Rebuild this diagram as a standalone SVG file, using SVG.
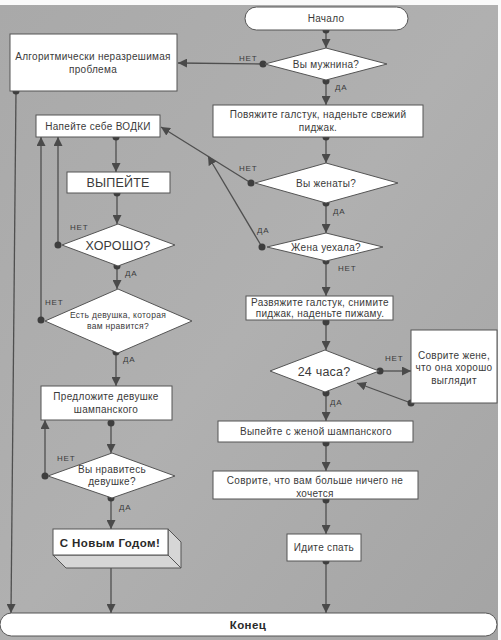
<svg xmlns="http://www.w3.org/2000/svg" width="501" height="640" viewBox="0 0 501 640">
<defs>
<linearGradient id="bg" x1="0" y1="0" x2="1" y2="1">
<stop offset="0" stop-color="#a9a9a9"/>
<stop offset="0.5" stop-color="#b0b0b0"/>
<stop offset="1" stop-color="#a4a4a4"/>
</linearGradient>
<marker id="arr" markerUnits="userSpaceOnUse" markerWidth="9" markerHeight="9" refX="9" refY="4.5" orient="auto" viewBox="0 0 9 9">
<path d="M0,0 L9,4.5 L0,9 z" fill="#4a4a4a"/>
</marker>
<marker id="dot" markerUnits="userSpaceOnUse" markerWidth="8" markerHeight="8" refX="4" refY="4" viewBox="0 0 8 8">
<circle cx="4" cy="4" r="3.5" fill="#3e3e3e"/>
</marker>
</defs>
<style>
.box{fill:#fff;stroke:#555;stroke-width:1}
.t{font-family:"Liberation Sans",Arial,sans-serif;font-size:10px;fill:#3a3a3a;text-anchor:middle;letter-spacing:0.3px}
.big{font-size:12.5px;letter-spacing:0.2px}
.sm{font-size:8.5px}
.b{font-weight:bold;font-size:11.5px;fill:#2a2a2a;letter-spacing:0.4px}
.lbl{font-family:"Liberation Sans",Arial,sans-serif;font-size:8px;fill:#3a3a3a;letter-spacing:0.8px}
.c{fill:none;stroke:#4f4f4f;stroke-width:1.3;marker-start:url(#dot);marker-end:url(#arr)}
</style>
<rect x="0" y="0" width="501" height="640" fill="#fafafa"/>
<rect x="0" y="5" width="498" height="635" fill="url(#bg)"/>

<g id="connectors">
<line class="c" x1="326" y1="30" x2="326" y2="48"/>
<line class="c" x1="263" y1="64" x2="178" y2="63"/>
<line class="c" x1="326" y1="81" x2="326" y2="105"/>
<line class="c" x1="326" y1="137" x2="326" y2="163"/>
<line class="c" x1="251" y1="183" x2="161" y2="127"/>
<line class="c" x1="262" y1="247" x2="208" y2="156"/>
<line class="c" x1="326" y1="203" x2="326" y2="233"/>
<line class="c" x1="326" y1="261" x2="326" y2="296"/>
<line class="c" x1="326" y1="322" x2="326" y2="350"/>
<line class="c" x1="380" y1="371" x2="411" y2="371"/>
<line class="c" x1="411" y1="403" x2="357" y2="383"/>
<line class="c" x1="326" y1="393" x2="326" y2="421"/>
<line class="c" x1="326" y1="443" x2="326" y2="471"/>
<line class="c" x1="326" y1="500" x2="326" y2="534"/>
<line class="c" x1="326" y1="561" x2="326" y2="613"/>
<line class="c" x1="16" y1="91" x2="11" y2="613"/>
<line class="c" x1="116" y1="137" x2="116" y2="172"/>
<line class="c" x1="117" y1="193" x2="117" y2="224"/>
<line class="c" x1="58" y1="245" x2="58" y2="137"/>
<line class="c" x1="117" y1="266" x2="117" y2="289"/>
<line class="c" x1="41" y1="320" x2="41" y2="137"/>
<line class="c" x1="116" y1="352" x2="116" y2="386"/>
<line class="c" x1="111" y1="423" x2="111" y2="453"/>
<line class="c" x1="45" y1="476" x2="45" y2="420"/>
<line class="c" x1="111" y1="498" x2="111" y2="529"/>
<line class="c" x1="111" y1="556" x2="111" y2="613"/>
<text class="lbl" x="239" y="61">НЕТ</text>
<text class="lbl" x="335" y="90">ДА</text>
<text class="lbl" x="239" y="171">НЕТ</text>
<text class="lbl" x="333" y="214">ДА</text>
<text class="lbl" x="257" y="233">ДА</text>
<text class="lbl" x="338" y="271">НЕТ</text>
<text class="lbl" x="385" y="361">НЕТ</text>
<text class="lbl" x="330" y="405">ДА</text>
<text class="lbl" x="70" y="230">НЕТ</text>
<text class="lbl" x="125" y="276">ДА</text>
<text class="lbl" x="45" y="305">НЕТ</text>
<text class="lbl" x="123" y="362">ДА</text>
<text class="lbl" x="57" y="461">НЕТ</text>
<text class="lbl" x="119" y="510">ДА</text>
</g>

<g id="start">
<rect class="box" x="245" y="7" width="163" height="23" rx="11.5"/>
<text class="t" x="326" y="22">Начало</text>
</g>
<g id="q-man">
<polygon class="box" points="326,48 387,64 326,80 265,64"/>
<text class="t" x="326" y="68">Вы мужнина?</text>
</g>
<g id="unsolvable">
<rect class="box" x="10" y="34" width="167" height="57"/>
<text class="t" x="93" y="60">Алгоритмически неразрешимая</text>
<text class="t" x="93" y="73">проблема</text>
</g>
<g id="tie">
<rect class="box" x="213" y="105" width="210" height="32"/>
<text class="t" x="318" y="118">Повяжите галстук, наденьте свежий</text>
<text class="t" x="318" y="131">пиджак.</text>
</g>
<g id="q-married">
<polygon class="box" points="326,163 398,183 326,203 255,183"/>
<text class="t" x="326" y="187">Вы женаты?</text>
</g>
<g id="q-wife-left">
<polygon class="box" points="326,233 383,247 326,261 267,247"/>
<text class="t" x="326" y="251">Жена уехала?</text>
</g>
<g id="untie">
<rect class="box" x="246" y="296" width="147" height="24"/>
<text class="t" x="320" y="306">Развяжите галстук, снимите</text>
<text class="t" x="320" y="317">пиджак, наденьте пижаму.</text>
</g>
<g id="q-24h">
<polygon class="box" points="325,350 379,371 325,392 270,371"/>
<text class="t big" x="324" y="376">24 часа?</text>
</g>
<g id="lie-wife">
<rect class="box" x="411" y="330" width="86" height="73"/>
<text class="t" x="454" y="359">Соврите жене,</text>
<text class="t" x="454" y="371">что она хорошо</text>
<text class="t" x="454" y="384">выглядит</text>
</g>
<g id="champagne-wife">
<rect class="box" x="218" y="421" width="195" height="21"/>
<text class="t" x="316" y="435">Выпейте с женой шампанского</text>
</g>
<g id="lie-nothing">
<rect class="box" x="213" y="471" width="205" height="28"/>
<text class="t" x="315" y="484">Соврите, что вам больше ничего не</text>
<text class="t" x="315" y="497">хочется</text>
</g>
<g id="sleep">
<rect class="box" x="287" y="534" width="74" height="27"/>
<text class="t" x="324" y="551">Идите спать</text>
</g>
<g id="vodka">
<rect class="box" x="36" y="115" width="124" height="22"/>
<text class="t" x="98" y="130">Напейте себе ВОДКИ</text>
</g>
<g id="drink">
<rect class="box" x="67" y="172" width="103" height="21"/>
<text class="t big" x="118" y="187">ВЫПЕЙТЕ</text>
</g>
<g id="q-good">
<polygon class="box" points="118,224 175,245 118,266 62,245"/>
<text class="t big" x="118" y="250">ХОРОШО?</text>
</g>
<g id="q-girl">
<polygon class="box" points="118,289 192,321 118,353 45,321"/>
<text class="t sm" x="118" y="318">Есть девушка, которая</text>
<text class="t sm" x="118" y="329">вам нравится?</text>
</g>
<g id="offer">
<rect class="box" x="41" y="386" width="131" height="34"/>
<text class="t" x="106" y="400">Предложите девушке</text>
<text class="t" x="106" y="413">шампанского</text>
</g>
<g id="q-like">
<polygon class="box" points="112,453 175,476 112,498 48,476"/>
<text class="t" x="112" y="473">Вы нравитесь</text>
<text class="t" x="112" y="485">девушке?</text>
</g>
<g id="new-year">
<polygon points="168,529 181,542 181,568 66,568 53,555 168,555" fill="#d6d6d6" stroke="#555" stroke-width="1"/>
<line x1="168" y1="555" x2="181" y2="568" stroke="#555" stroke-width="1"/>
<rect class="box" x="53" y="529" width="115" height="26"/>
<text class="t b" x="110" y="547">С Новым Годом!</text>
</g>
<g id="end">
<rect class="box" x="0" y="613" width="497" height="23" rx="11.5"/>
<text class="t b" x="248" y="629">Конец</text>
</g>
</svg>
